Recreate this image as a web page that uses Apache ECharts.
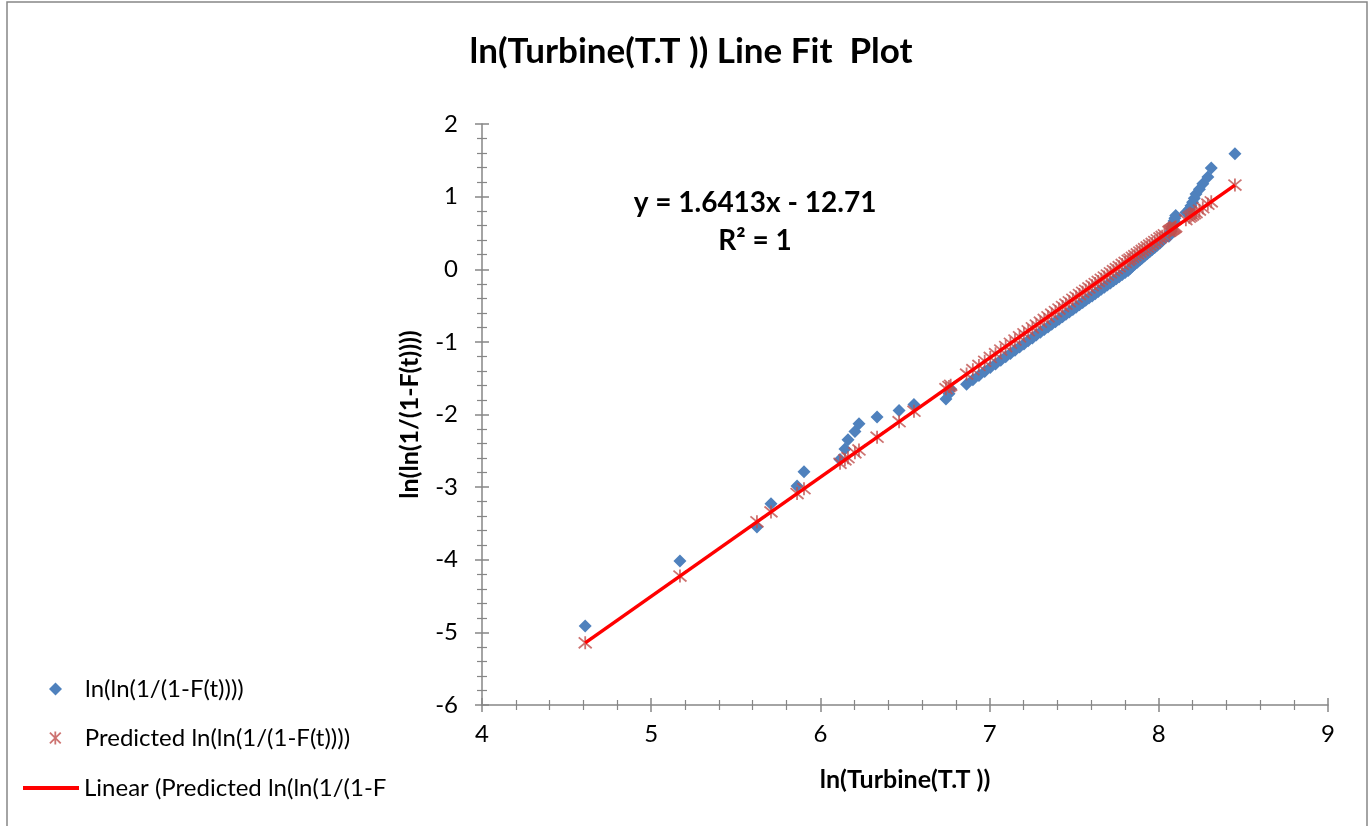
<!DOCTYPE html>
<html>
<head>
<meta charset="utf-8">
<script src="https://cdn.jsdelivr.net/npm/echarts@6/dist/echarts.min.js"></script>
<style>html,body{margin:0;padding:0;background:#fff}#c{width:1372px;height:826px}</style>
</head>
<body>
<div id="c"></div>
<script>
var xVals = [4.61, 5.17, 5.625, 5.708, 5.862, 5.903, 6.116, 6.145, 6.163, 6.204, 6.228, 6.335, 6.465, 6.553, 6.742, 6.76, 6.77, 6.864, 6.901, 6.937, 6.971, 7.004, 7.035, 7.066, 7.095, 7.123, 7.150, 7.177, 7.203, 7.228, 7.253, 7.276, 7.300, 7.323, 7.345, 7.367, 7.389, 7.410, 7.431, 7.451, 7.471, 7.492, 7.511, 7.531, 7.550, 7.568, 7.587, 7.606, 7.624, 7.642, 7.660, 7.678, 7.696, 7.714, 7.732, 7.749, 7.766, 7.784, 7.801, 7.819, 7.830, 7.844, 7.858, 7.873, 7.888, 7.902, 7.916, 7.931, 7.946, 7.961, 7.976, 7.991, 8.007, 8.020, 8.033, 8.06, 8.065, 8.07, 8.075, 8.08, 8.085, 8.09, 8.095, 8.10, 8.16, 8.18, 8.19, 8.20, 8.21, 8.22, 8.24, 8.26, 8.29, 8.31, 8.45];
var yObserved = [-4.911, -4.018, -3.550, -3.230, -2.985, -2.787, -2.620, -2.475, -2.347, -2.233, -2.129, -2.034, -1.946, -1.864, -1.788, -1.716, -1.648, -1.584, -1.523, -1.464, -1.408, -1.354, -1.303, -1.253, -1.205, -1.159, -1.114, -1.070, -1.028, -0.986, -0.946, -0.907, -0.868, -0.831, -0.794, -0.758, -0.722, -0.688, -0.653, -0.620, -0.587, -0.554, -0.522, -0.490, -0.459, -0.428, -0.397, -0.367, -0.336, -0.307, -0.277, -0.248, -0.218, -0.189, -0.160, -0.132, -0.103, -0.074, -0.046, -0.017, 0.011, 0.040, 0.068, 0.097, 0.126, 0.154, 0.183, 0.212, 0.242, 0.271, 0.301, 0.331, 0.362, 0.393, 0.424, 0.456, 0.488, 0.521, 0.555, 0.590, 0.626, 0.663, 0.701, 0.741, 0.783, 0.827, 0.873, 0.923, 0.977, 1.036, 1.102, 1.179, 1.271, 1.393, 1.592];
var yPredicted = [-5.144, -4.225, -3.478, -3.341, -3.089, -3.021, -2.672, -2.624, -2.595, -2.527, -2.488, -2.312, -2.099, -1.955, -1.644, -1.615, -1.598, -1.444, -1.383, -1.324, -1.268, -1.214, -1.163, -1.113, -1.065, -1.019, -0.975, -0.930, -0.888, -0.847, -0.806, -0.768, -0.729, -0.691, -0.655, -0.619, -0.582, -0.548, -0.513, -0.481, -0.448, -0.413, -0.382, -0.349, -0.318, -0.289, -0.257, -0.226, -0.197, -0.167, -0.138, -0.108, -0.079, -0.049, -0.020, 0.008, 0.036, 0.066, 0.094, 0.123, 0.141, 0.164, 0.187, 0.212, 0.237, 0.260, 0.283, 0.307, 0.332, 0.356, 0.381, 0.406, 0.432, 0.453, 0.475, 0.519, 0.527, 0.535, 0.544, 0.552, 0.560, 0.568, 0.576, 0.585, 0.683, 0.716, 0.732, 0.749, 0.765, 0.781, 0.814, 0.847, 0.896, 0.929, 1.159];
var trendX = [4.61, 8.45];
var trendY = [-5.144, 1.159];
var xTicks = [4, 5, 6, 7, 8, 9];
var yTicks = [-6, -5, -4, -3, -2, -1, 0, 1, 2];

var titleText = 'ln(Turbine(T.T )) Line Fit  Plot';
var xName = 'ln(Turbine(T.T ))';
var yName = 'ln(ln(1/(1-F(t))))';
var s1Name = 'ln(ln(1/(1-F(t))))';
var s2Name = 'Predicted ln(ln(1/(1-F(t))))';
var s3Name = 'Linear (Predicted ln(ln(1/(1-F(t)))))';
var s3Shown = 'Linear (Predicted ln(ln(1/(1-F';
var eqLine1 = 'y = 1.6413x - 12.71';
var eqLine2 = 'R² = 1';

var FONT = 'Lato, "Open Sans", sans-serif';
var GRAY = '#868686';
var star = 'path://M0,0L10,10M10,0L0,10M5,-1L5,11';

function pairs(xs, ys) { return xs.map(function (x, i) { return [x, ys[i]]; }); }

var chart = echarts.init(document.getElementById('c'), null, { renderer: 'canvas' });

function axisBase(isX, inside) {
  return {
    type: 'value',
    min: isX ? xTicks[0] : yTicks[0],
    max: isX ? xTicks[xTicks.length - 1] : yTicks[yTicks.length - 1],
    interval: 1,
    position: isX ? 'bottom' : 'left',
    splitLine: { show: false },
    axisLine: { show: !inside, onZero: false, lineStyle: { color: GRAY, width: 1.5 } },
    axisTick: { show: true, inside: inside, length: 7, lineStyle: { color: GRAY, width: 1.5 } },
    minorTick: { show: true, splitNumber: 5, length: 5, lineStyle: { color: GRAY, width: 1.2 } },
    minorSplitLine: { show: false },
    axisLabel: { show: !inside, color: '#000', fontFamily: FONT, fontSize: 24, margin: isX ? 17 : 24 }
  };
}

var xa0 = axisBase(true, false);
xa0.name = xName; xa0.nameLocation = 'middle'; xa0.nameGap = 62;
xa0.nameTextStyle = { fontFamily: FONT, fontSize: 25, fontWeight: 'bold', color: '#000' };
var xa1 = axisBase(true, true);
var ya0 = axisBase(false, false);
ya0.name = yName; ya0.nameLocation = 'middle'; ya0.nameGap = 60; ya0.nameRotate = 90;
ya0.nameTextStyle = { fontFamily: FONT, fontSize: 25, fontWeight: 'bold', color: '#000' };
var ya1 = axisBase(false, true);

var legendText = { fontFamily: FONT, fontSize: 24, color: '#000', padding: [0, 0, 0, 18] };

var option = {
  backgroundColor: '#ffffff',
  animation: false,
  title: {
    text: titleText, left: 686, top: 29, textAlign: 'center',
    textStyle: { fontFamily: FONT, fontSize: 35, fontWeight: 'bold', color: '#000' }
  },
  grid: { left: 482, right: 44, top: 124, bottom: 121, containLabel: false },
  xAxis: [xa0, xa1],
  yAxis: [ya0, ya1],
  legend: [
    {
      left: 44, top: 672, itemWidth: 13, itemHeight: 13,
      textStyle: legendText,
      data: [{ name: s1Name, icon: 'diamond' }]
    },
    {
      left: 44, top: 721, itemWidth: 13, itemHeight: 13,
      textStyle: legendText,
      data: [{ name: s2Name, icon: star, itemStyle: { color: 'rgba(0,0,0,0)', borderColor: '#C0504D', borderWidth: 1.8 } }]
    },
    {
      left: 18, top: 771, itemWidth: 56, itemHeight: 4,
      textStyle: { fontFamily: FONT, fontSize: 24, color: '#000' },
      formatter: function () { return s3Shown; },
      data: [{ name: s3Name, icon: 'rect', itemStyle: { color: '#FF0000' } }]
    }
  ],
  graphic: [
    { type: 'rect', silent: true, z: -1, shape: { x: 7, y: 2, width: 1360, height: 830 }, style: { fill: null, stroke: GRAY, lineWidth: 1.5 } },
    { type: 'text', silent: true, x: 755, y: 203, style: { text: eqLine1, fill: '#000', font: 'bold 28px ' + FONT, textAlign: 'center', textVerticalAlign: 'middle' } },
    { type: 'text', silent: true, x: 755, y: 241, style: { text: eqLine2, fill: '#000', font: 'bold 28px ' + FONT, textAlign: 'center', textVerticalAlign: 'middle' } }
  ],
  series: [
    {
      name: s1Name, type: 'scatter', xAxisIndex: 0, yAxisIndex: 0,
      symbol: 'diamond', symbolSize: 13,
      itemStyle: { color: '#4F81BD', opacity: 1 },
      data: pairs(xVals, yObserved), z: 2
    },
    {
      name: s2Name, type: 'scatter', xAxisIndex: 0, yAxisIndex: 0,
      symbol: star, symbolSize: 13,
      itemStyle: { color: 'rgba(0,0,0,0)', borderColor: '#C0504D', borderWidth: 1.8 },
      data: pairs(xVals, yPredicted), z: 3
    },
    {
      name: s3Name, type: 'line', xAxisIndex: 0, yAxisIndex: 0,
      showSymbol: false, symbol: 'none',
      lineStyle: { color: '#FF0000', width: 3.5 },
      itemStyle: { color: '#FF0000' },
      data: pairs(trendX, trendY), z: 4
    }
  ]
};
chart.setOption(option);
</script>
</body>
</html>
